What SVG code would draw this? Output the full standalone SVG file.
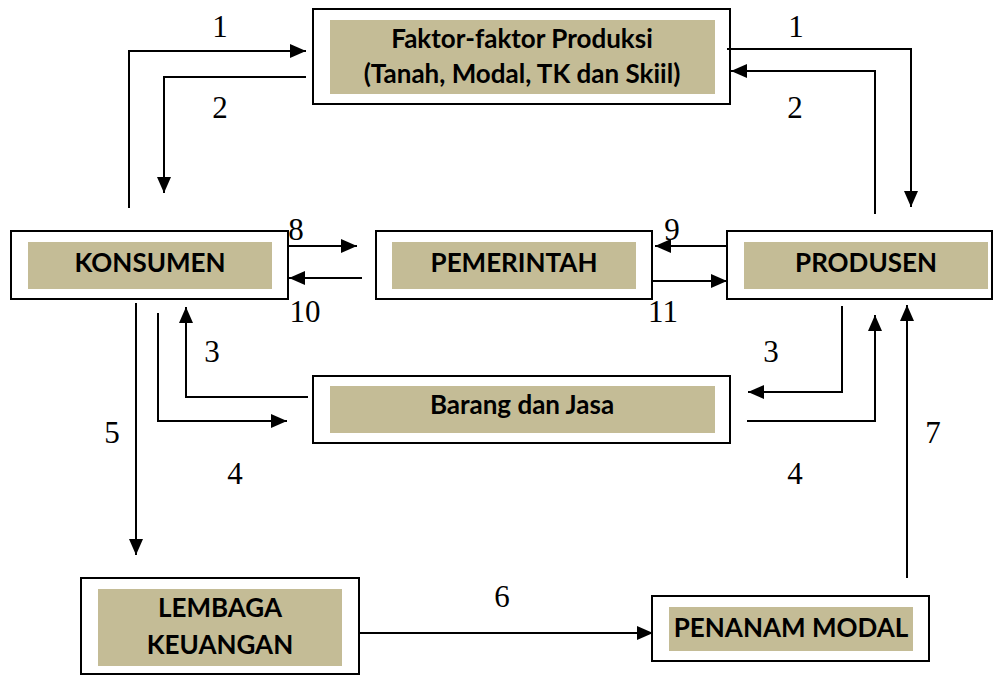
<svg xmlns="http://www.w3.org/2000/svg" width="993" height="675" viewBox="0 0 993 675">
<style>
.outer{fill:#fff;stroke:#000;stroke-width:2}
.inner{fill:#c4bc96}
.t{font-family:Lato,"Liberation Sans",sans-serif;font-weight:bold;font-size:26px;fill:#000;text-anchor:middle}
.n{font-family:"Liberation Serif","DejaVu Serif",serif;font-size:31px;fill:#000;text-anchor:middle}
.c{fill:none;stroke:#000;stroke-width:2;marker-end:url(#ah)}
</style>
<defs>
<marker id="ah" markerUnits="userSpaceOnUse" markerWidth="17" markerHeight="15" refX="16" refY="7" orient="auto">
<path d="M0,0 L16,7 L0,14 z" fill="#000"/>
</marker>
</defs>
<rect width="993" height="675" fill="#fff"/>
<g id="faktor">
<rect class="outer" x="313" y="9" width="417" height="95"/>
<rect class="inner" x="330" y="20" width="385" height="74"/>
<text class="t" x="522" y="48">Faktor-faktor Produksi</text>
<text class="t" x="522" y="83">(Tanah, Modal, TK dan Skiil)</text>
</g>
<g id="konsumen">
<rect class="outer" x="11" y="231" width="277" height="68"/>
<rect class="inner" x="28" y="242" width="244" height="47"/>
<text class="t" x="150" y="272">KONSUMEN</text>
</g>
<g id="pemerintah">
<rect class="outer" x="376" y="231" width="276" height="68"/>
<rect class="inner" x="392" y="242" width="244" height="47"/>
<text class="t" x="514" y="272">PEMERINTAH</text>
</g>
<g id="produsen">
<rect class="outer" x="727" y="231" width="265" height="68"/>
<rect class="inner" x="744" y="242" width="244" height="47"/>
<text class="t" x="866" y="272">PRODUSEN</text>
</g>
<g id="barang">
<rect class="outer" x="313" y="376" width="417" height="67"/>
<rect class="inner" x="330" y="386" width="385" height="47"/>
<text class="t" x="522" y="414">Barang dan Jasa</text>
</g>
<g id="lembaga">
<rect class="outer" x="81" y="578" width="278" height="96"/>
<rect class="inner" x="98" y="589" width="244" height="77"/>
<text class="t" x="220" y="617">LEMBAGA</text>
<text class="t" x="220" y="654">KEUANGAN</text>
</g>
<g id="penanam">
<rect class="outer" x="652" y="596" width="277" height="65"/>
<rect class="inner" x="669" y="607" width="244" height="44"/>
<text class="t" x="791" y="637">PENANAM MODAL</text>
</g>
<g id="connectors">
<polyline class="c" points="129,208 129,51 306,51"/>
<polyline class="c" points="306,77 164,77 164,193"/>
<polyline class="c" points="727,49 911,49 911,207"/>
<polyline class="c" points="875,214 875,71 731,71"/>
<polyline class="c" points="288,246 357,246"/>
<polyline class="c" points="362,278 289,278"/>
<polyline class="c" points="727,246 655,246"/>
<polyline class="c" points="652,281 727,281"/>
<polyline class="c" points="308,397 186,397 186,307"/>
<polyline class="c" points="158,313 158,421 287,421"/>
<polyline class="c" points="136,303 136,555"/>
<polyline class="c" points="842,306 842,392 748,392"/>
<polyline class="c" points="747,421 875,421 875,315"/>
<polyline class="c" points="907,578 907,305"/>
<polyline class="c" points="359,633 653,633"/>
</g>
<g id="labels">
<text class="n" x="220" y="37">1</text>
<text class="n" x="220" y="118">2</text>
<text class="n" x="796" y="37">1</text>
<text class="n" x="795" y="118">2</text>
<text class="n" x="296" y="240">8</text>
<text class="n" x="305" y="322">10</text>
<text class="n" x="672" y="240">9</text>
<text class="n" x="663" y="322">11</text>
<text class="n" x="212" y="362">3</text>
<text class="n" x="771" y="362">3</text>
<text class="n" x="112" y="443">5</text>
<text class="n" x="235" y="484">4</text>
<text class="n" x="795" y="484">4</text>
<text class="n" x="933" y="443">7</text>
<text class="n" x="502" y="607">6</text>
</g>
</svg>
